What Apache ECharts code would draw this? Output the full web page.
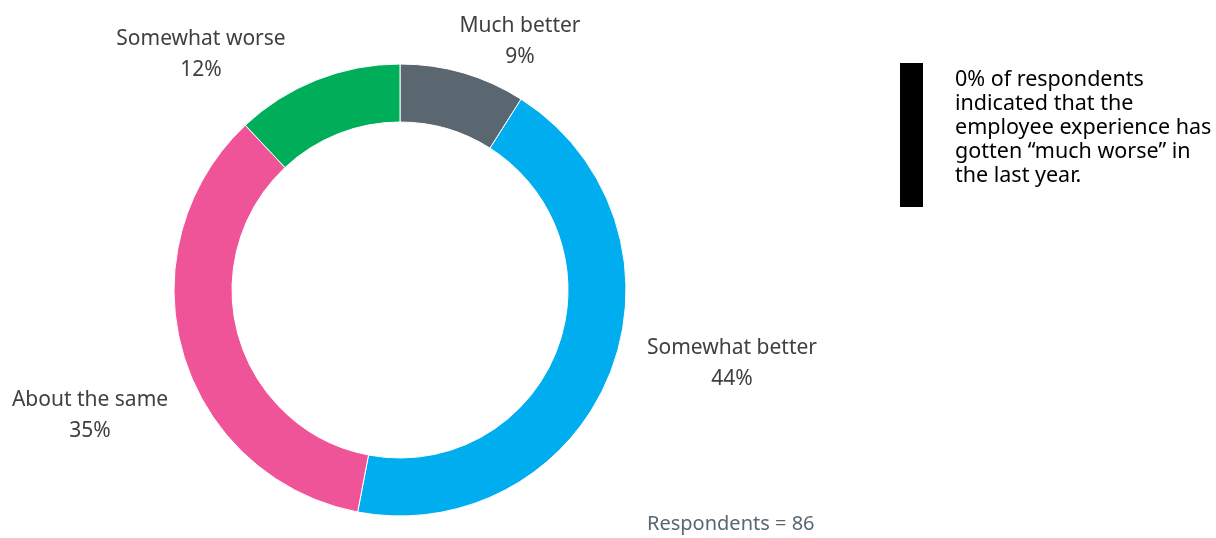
<!DOCTYPE html>
<html>
<head>
<meta charset="utf-8">
<script src="https://cdn.jsdelivr.net/npm/echarts@6/dist/echarts.min.js"></script>
<style>
  html, body { margin: 0; padding: 0; background: #fff; }
  #main { width: 1216px; height: 538px; }
</style>
</head>
<body>
<div id="main"></div>
<script>
// data
const categories = ['Much better', 'Somewhat better', 'About the same', 'Somewhat worse']
const shares = [9, 44, 35, 12]
const respondents = 86
const noteText = '0% of respondents\nindicated that the\nemployee experience has\ngotten \u201cmuch worse\u201d in\nthe last year.'

const sliceColors = ['#5a6670', '#00adef', '#ef5499', '#00ae5a']
// label block centres, same order as categories
const labelPos = [[520, 42], [732, 364], [90, 416], [201, 55]]

const font = '"Noto Sans", "Open Sans", sans-serif'

const chart = echarts.init(document.getElementById('main'))
chart.setOption({
  animation: false,
  graphic: [
    {
      type: 'rect',
      shape: { x: 900, y: 63, width: 23, height: 144 },
      style: { fill: '#000' }
    },
    {
      type: 'text',
      left: 955,
      top: 68,
      style: {
        text: noteText,
        fill: '#000',
        font: '21.5px ' + font,
        lineHeight: 24
      }
    },
    {
      type: 'text',
      left: 647,
      top: 514,
      style: {
        text: 'Respondents = ' + respondents,
        fill: '#5a6670',
        font: '20px ' + font
      }
    }
  ],
  series: [
    {
      type: 'pie',
      center: [400, 290],
      radius: [168, 226],
      startAngle: 90,
      clockwise: true,
      avoidLabelOverlap: false,
      itemStyle: { borderColor: '#fff', borderWidth: 1 },
      label: {
        show: true,
        position: 'outside',
        formatter: '{b}\n{c}%',
        color: '#404040',
        fontSize: 21,
        fontFamily: font,
        lineHeight: 31,
        align: 'center'
      },
      labelLine: { show: false },
      labelLayout: function (params) {
        const p = labelPos[params.dataIndex]
        return { x: p[0], y: p[1], align: 'center', verticalAlign: 'middle' }
      },
      emphasis: { disabled: true },
      data: categories.map((name, i) => ({
        name: name,
        value: shares[i],
        itemStyle: { color: sliceColors[i] }
      }))
    }
  ]
})
</script>
</body>
</html>
